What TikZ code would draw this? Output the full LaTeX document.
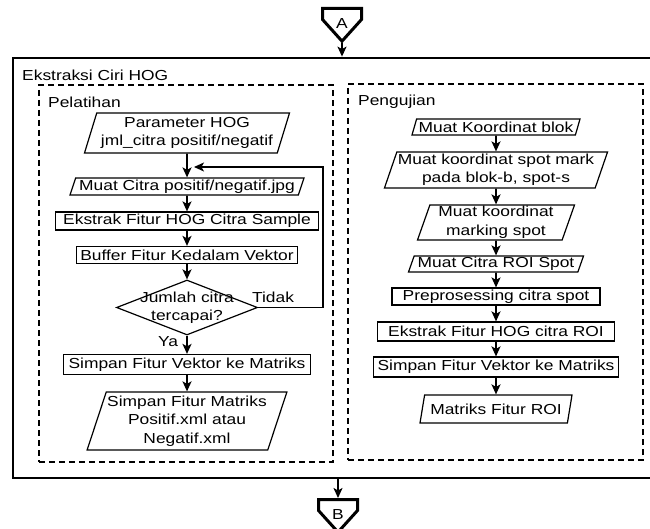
\documentclass[tikz,border=0pt]{standalone}
\usepackage{fontspec}
\setmainfont{Liberation Sans}[FakeStretch=1.2]
\usetikzlibrary{shapes.geometric,shapes.symbols,arrows.meta}

\begin{document}
\begin{tikzpicture}[x=1pt, y=-1pt, >={Stealth[length=10pt,width=9pt,inset=2.5pt]},
    every node/.style={font=\fontsize{14.5}{18.5}\selectfont, inner sep=1pt},
    proses/.style={draw, line width=1.2pt, rectangle, align=center},
    masukan/.style={draw, line width=1.2pt, trapezium, trapezium left angle=70, trapezium right angle=110, trapezium stretches body, align=center},
    putus/.style={draw, line width=1.2pt, dash pattern=on 6pt off 4pt},
    alur/.style={->, line width=1.6pt},
    konektor/.style={draw, line width=3pt, signal, signal to=south, signal pointer angle=84, minimum width=39pt, minimum height=11pt, inner sep=0pt}]
        \useasboundingbox (0,0) rectangle (650,529);
        \node[draw, line width=2.8pt, minimum width=650pt, minimum height=420pt] (ekstraksi) at (338,268) {};
        \node[anchor=west] (judul) at (21,75) {Ekstraksi Ciri HOG};
        \node[putus, minimum width=294pt, minimum height=377pt] (latih) at (186,273.5) {};
        \node[putus, minimum width=295pt, minimum height=376pt] (uji) at (495.5,272) {};
        \node[anchor=west] (tlatih) at (47,102) {Pelatihan};
        \node[anchor=west] (tuji) at (357,102) {Pengujian};

        \node[konektor, anchor=north, label={[yshift=-10pt]center:A}] (A) at (342,7) {};
        \node[konektor, anchor=north, label={[yshift=-10pt]center:B}] (B) at (338,498) {};

        \node[masukan, minimum width=205pt, minimum height=40pt] (p1) at (187,133) {Parameter HOG\\jml\_citra positif/negatif};
        \node[masukan, minimum width=234pt, minimum height=17pt] (p2) at (187,186.5) {Muat Citra positif/negatif.jpg};
        \node[proses, minimum width=263pt, minimum height=18pt] (p3) at (187,221) {Ekstrak Fitur HOG Citra Sample};
        \node[proses, minimum width=221pt, minimum height=17pt] (p4) at (187,255) {Buffer Fitur Kedalam Vektor};
        \node[diamond, draw, line width=1.2pt, minimum width=141pt, minimum height=55pt, inner sep=0pt,
            label={[align=center]center:Jumlah citra\\tercapai?}] (d) at (187,307.5) {};
        \node[proses, minimum width=247pt, minimum height=20pt] (p5) at (187,364.5) {Simpan Fitur Vektor ke Matriks};
        \node[masukan, minimum width=191pt, minimum height=58pt] (p6) at (187,421) {Simpan Fitur Matriks\\Positif.xml atau\\Negatif.xml};
        \node (tidak) at (273,297) {Tidak};
        \node (ya) at (168,342) {Ya};
        \coordinate (balik) at (323,167);
        \coordinate (masuk) at (194,167);

        \node[masukan, minimum width=168pt, minimum height=16pt] (u1) at (496,127) {Muat Koordinat blok};
        \node[masukan, minimum width=217pt, minimum height=36pt] (u2) at (496,170) {Muat koordinat spot mark\\pada blok-b, spot-s};
        \node[masukan, minimum width=157pt, minimum height=35pt] (u3) at (496,222.5) {Muat koordinat\\marking spot};
        \node[masukan, minimum width=175pt, minimum height=16pt] (u4) at (496,264) {Muat Citra ROI Spot};
        \node[proses, minimum width=208pt, minimum height=17pt] (u5) at (496,296.5) {Preprosessing citra spot};
        \node[proses, minimum width=237pt, minimum height=19pt] (u6) at (496,331.5) {Ekstrak Fitur HOG citra ROI};
        \node[proses, minimum width=245pt, minimum height=20pt] (u7) at (496,367) {Simpan Fitur Vektor ke Matriks};
        \node[masukan, minimum width=152pt, minimum height=28pt] (u8) at (496,409) {Matriks Fitur ROI};

        \draw[alur] (A) -- (A |- ekstraksi.north);
        \draw[alur] (B |- ekstraksi.south) -- (B);
        \draw[alur] (p1) -- (p2);
        \draw[alur] (p2) -- (p3);
        \draw[alur] (p3) -- (p4);
        \draw[alur] (p4) -- (d);
        \draw[alur] (d) -- (p5);
        \draw[alur] (p5) -- (p6);
        \draw[->, line width=1.2pt] (d.east) -| (balik) -- (masuk);
        \draw[alur] (u1) -- (u2);
        \draw[alur] (u2) -- (u3);
        \draw[alur] (u3) -- (u4);
        \draw[alur] (u4) -- (u5);
        \draw[alur] (u5) -- (u6);
        \draw[alur] (u6) -- (u7);
        \draw[alur] (u7) -- (u8);
\end{tikzpicture}
\end{document}
